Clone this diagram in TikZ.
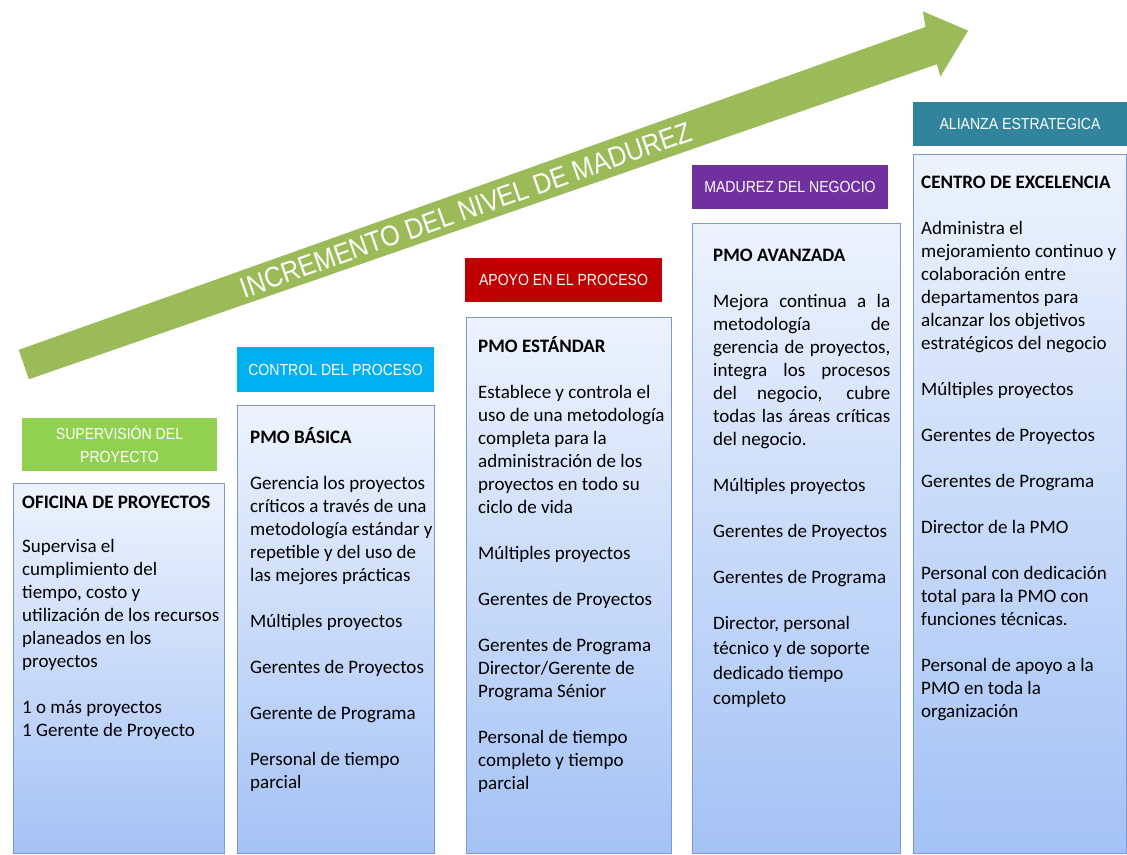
\documentclass[tikz,border=0pt]{standalone}
\usepackage{fontspec}
\setmainfont{Carlito}
\newfontfamily\hdrfont[FakeStretch=0.88]{Liberation Sans}
\definecolor{arrowgreen}{HTML}{9BBB59}
\definecolor{hgreen}{HTML}{92D050}
\definecolor{hcyan}{HTML}{00B0F0}
\definecolor{hred}{HTML}{C00000}
\definecolor{hpurple}{HTML}{7030A0}
\definecolor{hteal}{HTML}{31849B}
\definecolor{bodytop}{HTML}{EDF3FD}
\definecolor{bodybot}{HTML}{A4C2F5}
\definecolor{bodyline}{HTML}{7C9AD0}
\definecolor{shadowgray}{HTML}{A3A6B4}
\begin{document}
\begin{tikzpicture}[x=1pt,y=-1pt,
  hdr/.style={rectangle, inner sep=0pt, text=white, align=center,
    font=\hdrfont\fontsize{16}{23}\selectfont},
  bodybox/.style={rectangle, inner sep=0pt, anchor=north west,
    top color=bodytop, bottom color=bodybot, draw=bodyline, line width=1.4pt},
  bodytxt/.style={anchor=base west, inner sep=0pt,
    font=\fontsize{19}{23}\selectfont},
  arrowtxt/.style={inner sep=0pt, text=white,
    font=\hdrfont\fontsize{28.5}{30}\selectfont}
]
\useasboundingbox (0,0) rectangle (1127,854);
\fill[white] (0,0) rectangle (1127,854);

% ---- big arrow ----
\coordinate (t1) at (17,349);
\coordinate (s1) at (924,26);
\coordinate (h1) at (921,9);
\coordinate (tip) at (970,30);
\coordinate (h2) at (940,80);
\coordinate (s2) at (936,66);
\coordinate (t2) at (28,381);
\fill[shadowgray, shift={(3,5)}] (t1) -- (s1) -- (h1) -- (tip) -- (h2) -- (s2) -- (t2) -- cycle;
\filldraw[fill=arrowgreen, draw=white, line width=2.5pt, line join=miter]
  (t1) -- (s1) -- (h1) -- (tip) -- (h2) -- (s2) -- (t2) -- cycle;
\node[arrowtxt, rotate=19.4] (lbl) at (466,210) {INCREMENTO DEL NIVEL DE MADUREZ};

% ---- header boxes ----
\node[hdr, fill=hgreen, minimum width=195pt, minimum height=53pt] (h1box) at (119.5,444.5)
  {SUPERVISIÓN DEL\\PROYECTO};
\node[hdr, fill=hcyan, minimum width=197pt, minimum height=45pt] (h2box) at (335.5,369.5)
  {CONTROL DEL PROCESO};
\node[hdr, fill=hred, minimum width=197pt, minimum height=44pt] (h3box) at (563.5,280)
  {APOYO EN EL PROCESO};
\node[hdr, fill=hpurple, minimum width=196pt, minimum height=44pt] (h4box) at (790,187)
  {MADUREZ DEL NEGOCIO};
\node[hdr, fill=hteal, minimum width=214pt, minimum height=44pt] (h5box) at (1020,124)
  {ALIANZA ESTRATEGICA};

% ---- body boxes ----
\node[bodybox, minimum width=211pt, minimum height=370pt] (b1) at (13,483) {};
\node[bodybox, minimum width=197pt, minimum height=448pt] (b2) at (237,405) {};
\node[bodybox, minimum width=205pt, minimum height=536pt] (b3) at (466,317) {};
\node[bodybox, minimum width=208pt, minimum height=630pt] (b4) at (692,223) {};
\node[bodybox, minimum width=213pt, minimum height=699pt] (b5) at (913,154) {};

% ---- body texts ----
\node[bodytxt] (t1txt) at (22,508) {\parbox[t]{205pt}{\raggedright
\textbf{OFICINA DE PROYECTOS}\\[21pt]
Supervisa el\\
cumplimiento del\\
tiempo, costo y\\
utilización de los recursos\\
planeados en los\\
proyectos\\[23pt]
1 o más proyectos\\
1 Gerente de Proyecto}};

\node[bodytxt] (t2txt) at (250,443) {\parbox[t]{190pt}{\raggedright
\textbf{PMO BÁSICA}\\[23pt]
Gerencia los proyectos\\
críticos a través de una\\
metodología estándar y\\
repetible y del uso de\\
las mejores prácticas\\[23pt]
Múltiples proyectos\\[23pt]
Gerentes de Proyectos\\[23pt]
Gerente de Programa\\[23pt]
Personal de tiempo\\
parcial}};

\node[bodytxt] (t3txt) at (478,352) {\parbox[t]{195pt}{\raggedright
\textbf{PMO ESTÁNDAR}\\[23pt]
Establece y controla el\\
uso de una metodología\\
completa para la\\
administración de los\\
proyectos en todo su\\
ciclo de vida\\[23pt]
Múltiples proyectos\\[23pt]
Gerentes de Proyectos\\[23pt]
Gerentes de Programa\\
Director/Gerente de\\
Programa Sénior\\[23pt]
Personal de tiempo\\
completo y tiempo\\
parcial}};

\node[bodytxt] (t4txt) at (713,261) {\parbox[t]{185pt}{\raggedright
\textbf{PMO AVANZADA}\\[23pt]
\makebox[177pt][s]{Mejora continua a la}\\
\makebox[177pt][s]{metodología de}\\
\makebox[177pt][s]{gerencia de proyectos,}\\
\makebox[177pt][s]{integra los procesos}\\
\makebox[177pt][s]{del negocio, cubre}\\
\makebox[177pt][s]{todas las áreas críticas}\\
del negocio.\\[23pt]
Múltiples proyectos\\[23pt]
Gerentes de Proyectos\\[23pt]
Gerentes de Programa\\[23pt]
Director, personal\\[2pt]
técnico y de soporte\\[2pt]
dedicado tiempo\\[2pt]
completo}};

\node[bodytxt] (t5txt) at (921,188) {\parbox[t]{205pt}{\raggedright
\textbf{CENTRO DE EXCELENCIA}\\[23pt]
Administra el\\
mejoramiento continuo y\\
colaboración entre\\
departamentos para\\
alcanzar los objetivos\\
estratégicos del negocio\\[23pt]
Múltiples proyectos\\[23pt]
Gerentes de Proyectos\\[23pt]
Gerentes de Programa\\[23pt]
Director de la PMO\\[23pt]
Personal con dedicación\\
total para la PMO con\\
funciones técnicas.\\[23pt]
Personal de apoyo a la\\
PMO en toda la\\
organización}};
\end{tikzpicture}
\end{document}
